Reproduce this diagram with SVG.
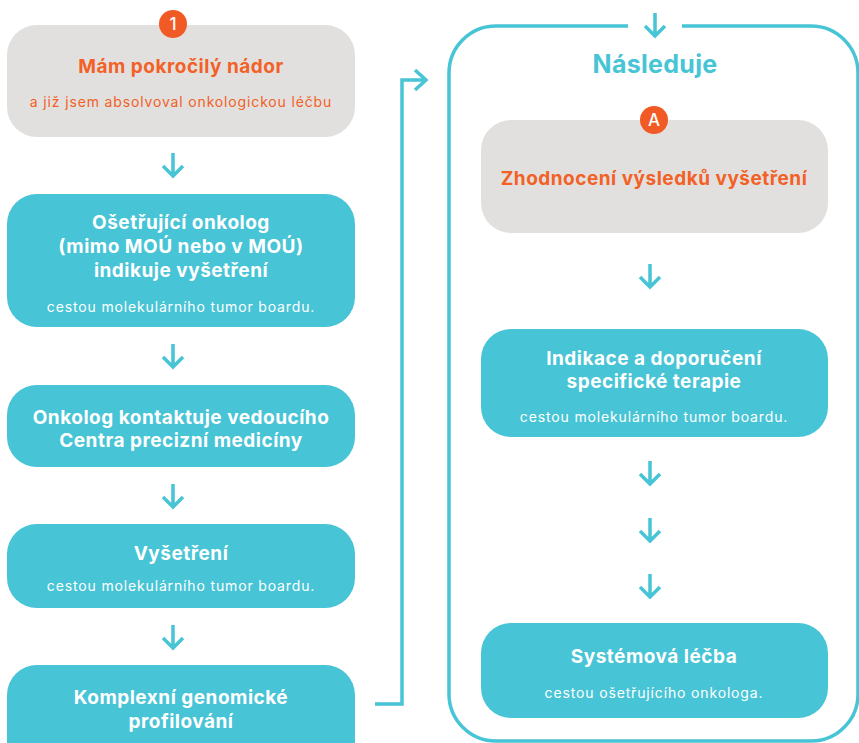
<svg xmlns="http://www.w3.org/2000/svg" xmlns:xlink="http://www.w3.org/1999/xlink" width="859" height="743" viewBox="0 0 859 743">
<style>
.teal{fill:#47C4D5}
.gray{fill:#E2E0DF}
.t{font-family:Inter,"Noto Sans",sans-serif;font-weight:700;font-size:19px;letter-spacing:0.5px;text-anchor:middle}
.s{font-family:Inter,"Noto Sans",sans-serif;font-weight:400;font-size:14px;letter-spacing:0.85px;text-anchor:middle}
.w{fill:#FFFFFF}
.o{fill:#F26126}
.ln{fill:none;stroke:#47C4D5;stroke-width:3.5}
.badge{fill:#F15A24}
.bt{font-family:Inter,"Noto Sans",sans-serif;font-weight:500;font-size:17px;fill:#FFFFFF;text-anchor:middle}
</style>
<defs>
<path id="arr" d="M0,-12 V11 M-10,1 L0,11 L10,1" fill="none" stroke="#47C4D5" stroke-width="3.5"/>
</defs>
<g id="connectors">
<use href="#arr" x="173" y="165"/>
<use href="#arr" x="173" y="356"/>
<use href="#arr" x="173" y="496"/>
<use href="#arr" x="173" y="637"/>
<use href="#arr" x="655" y="25"/>
<use href="#arr" x="650" y="276"/>
<use href="#arr" x="650" y="473"/>
<use href="#arr" x="650" y="530"/>
<use href="#arr" x="650" y="586"/>
<path class="ln" d="M375,704 H402 V80 H425"/>
<path class="ln" d="M415,70 L426,80 L415,90"/>
</g>
<g id="container">
<path class="ln" d="M682,26 H811 A47,47 0 0 1 858,73 V694 A47,47 0 0 1 811,741 H496 A47,47 0 0 1 449,694 V73 A47,47 0 0 1 496,26 H628"/>
<text x="655" y="73" style="font-family:Inter,'Noto Sans',sans-serif;font-weight:700;font-size:25px;letter-spacing:0.3px;fill:#47C4D5;text-anchor:middle">Následuje</text>
</g>
<g id="n1">
<rect class="gray" x="7" y="25" width="348" height="112" rx="30"/>
<circle class="badge" cx="173" cy="24" r="14"/>
<text class="bt" x="173" y="30">1</text>
<text class="t o" x="181" y="73">Mám pokročilý nádor</text>
<text class="s o" x="181" y="107">a již jsem absolvoval onkologickou léčbu</text>
</g>
<g id="n2">
<rect class="teal" x="7" y="194" width="348" height="133" rx="30"/>
<text class="t w" x="181" y="229">Ošetřující onkolog</text>
<text class="t w" x="181" y="253">(mimo MOÚ nebo v MOÚ)</text>
<text class="t w" x="181" y="277">indikuje vyšetření</text>
<text class="s w" x="181" y="312">cestou molekulárního tumor boardu.</text>
</g>
<g id="n3">
<rect class="teal" x="7" y="385" width="348" height="82" rx="30"/>
<text class="t w" x="181" y="424">Onkolog kontaktuje vedoucího</text>
<text class="t w" x="181" y="447">Centra precizní medicíny</text>
</g>
<g id="n4">
<rect class="teal" x="7" y="524" width="348" height="84" rx="30"/>
<text class="t w" x="181" y="560">Vyšetření</text>
<text class="s w" x="181" y="591">cestou molekulárního tumor boardu.</text>
</g>
<g id="n5">
<rect class="teal" x="7" y="665" width="348" height="110" rx="30"/>
<text class="t w" x="181" y="704">Komplexní genomické</text>
<text class="t w" x="181" y="728">profilování</text>
</g>
<g id="nA">
<rect class="gray" x="481" y="120" width="347" height="113" rx="30"/>
<circle class="badge" cx="654" cy="120" r="14"/>
<text class="bt" x="654" y="126">A</text>
<text class="t o" x="654" y="185">Zhodnocení výsledků vyšetření</text>
</g>
<g id="nB">
<rect class="teal" x="481" y="329" width="347" height="108" rx="30"/>
<text class="t w" x="654" y="365">Indikace a doporučení</text>
<text class="t w" x="654" y="388">specifické terapie</text>
<text class="s w" x="654" y="422">cestou molekulárního tumor boardu.</text>
</g>
<g id="nC">
<rect class="teal" x="481" y="623" width="347" height="95" rx="30"/>
<text class="t w" x="654" y="663">Systémová léčba</text>
<text class="s w" x="654" y="698">cestou ošetřujícího onkologa.</text>
</g>
</svg>
